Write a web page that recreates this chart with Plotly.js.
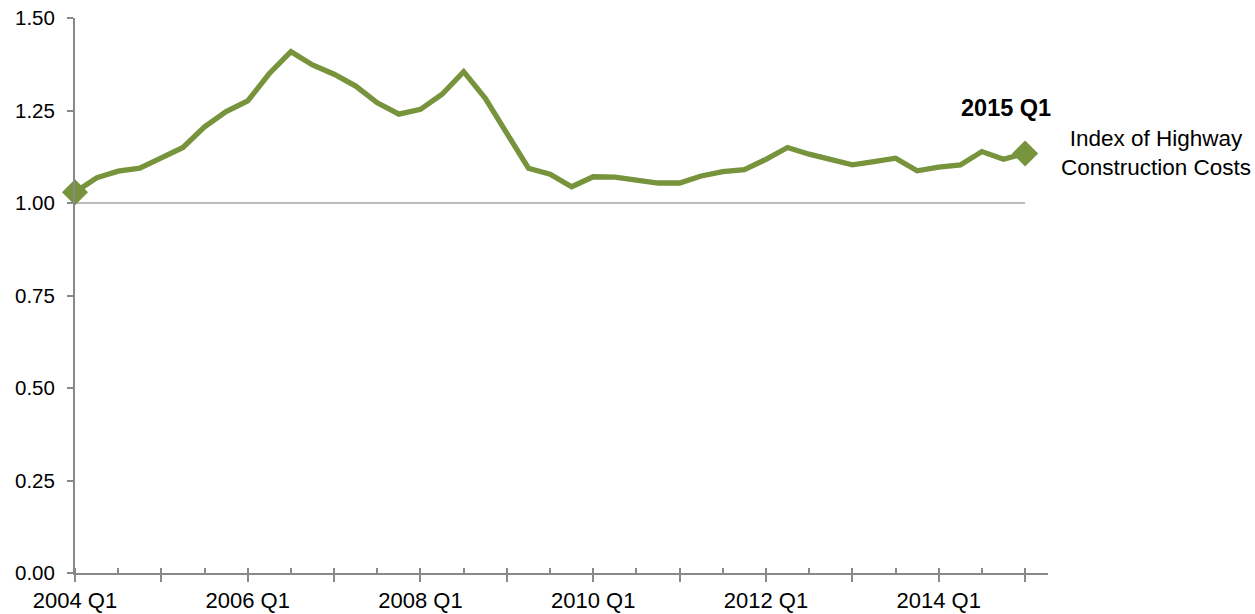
<!DOCTYPE html>
<html>
<head>
<meta charset="utf-8">
<script src="https://cdn.plot.ly/plotly-3.0.1.min.js"></script>
<style>
  html, body { margin: 0; padding: 0; background: #ffffff; }
  #chart { width: 1255px; height: 614px; }
</style>
</head>
<body>
<div id="chart"></div>
<script>
const quarters = [
  "2004 Q1","2004 Q2","2004 Q3","2004 Q4",
  "2005 Q1","2005 Q2","2005 Q3","2005 Q4",
  "2006 Q1","2006 Q2","2006 Q3","2006 Q4",
  "2007 Q1","2007 Q2","2007 Q3","2007 Q4",
  "2008 Q1","2008 Q2","2008 Q3","2008 Q4",
  "2009 Q1","2009 Q2","2009 Q3","2009 Q4",
  "2010 Q1","2010 Q2","2010 Q3","2010 Q4",
  "2011 Q1","2011 Q2","2011 Q3","2011 Q4",
  "2012 Q1","2012 Q2","2012 Q3","2012 Q4",
  "2013 Q1","2013 Q2","2013 Q3","2013 Q4",
  "2014 Q1","2014 Q2","2014 Q3","2014 Q4",
  "2015 Q1"
];

const highwayCostIndex = [
  1.029, 1.068, 1.086, 1.094,
  1.122, 1.150, 1.206, 1.247,
  1.276, 1.350, 1.409, 1.373,
  1.348, 1.316, 1.271, 1.240,
  1.253, 1.294, 1.355, 1.283,
  1.188, 1.094, 1.078, 1.044,
  1.071, 1.070, 1.062, 1.054,
  1.054, 1.073, 1.085, 1.090,
  1.118, 1.150, 1.132, 1.117,
  1.103, 1.112, 1.121, 1.087,
  1.097, 1.103, 1.139, 1.118,
  1.134
];

const baselineQuarters = ["2004 Q1", "2015 Q1"];
const baselineValues = [1.00, 1.00];

const labeledQuarters = ["2004 Q1","2006 Q1","2008 Q1","2010 Q1","2012 Q1","2014 Q1"];
const yTickValues = [0, 0.25, 0.5, 0.75, 1.0, 1.25, 1.5];

const seriesName = "Index of Highway<br>Construction Costs";
const endLabel = "2015 Q1";

// positions along the quarter axis
const qIndex = q => quarters.indexOf(q);
const xs = quarters.map((q, i) => i);
const majorTicks = xs.filter(i => i % 4 === 0);
const majorText = majorTicks.map(i => labeledQuarters.includes(quarters[i]) ? quarters[i] : "");

const green = "#77933C";
const axisGray = "#898989";
const lastI = quarters.length - 1;

const traces = [
  {
    x: baselineQuarters.map(qIndex),
    y: baselineValues,
    mode: "lines",
    line: { color: "#A6A6A6", width: 1.3 },
    hoverinfo: "skip",
    showlegend: false
  },
  {
    x: xs,
    y: highwayCostIndex,
    mode: "lines",
    line: { color: green, width: 5.3 },
    showlegend: false,
    cliponaxis: false
  },
  {
    x: [0, lastI],
    y: [highwayCostIndex[0], highwayCostIndex[lastI]],
    mode: "markers",
    marker: { symbol: "diamond", size: 20, color: green },
    showlegend: false,
    cliponaxis: false
  }
];

const layout = {
  width: 1255,
  height: 614,
  margin: { l: 75, r: 207, t: 18, b: 41 },
  paper_bgcolor: "#ffffff",
  plot_bgcolor: "#ffffff",
  showlegend: false,
  font: { family: "Liberation Sans, Arial, sans-serif", color: "#000000" },
  xaxis: {
    range: [0, 45.06],
    tickmode: "array",
    tickvals: majorTicks,
    ticktext: majorText,
    ticks: "outside",
    ticklen: 7,
    tickwidth: 2,
    tickcolor: axisGray,
    minor: {
      tickmode: "linear",
      tick0: 0,
      dtick: 2,
      ticks: "inside",
      ticklen: 5,
      tickwidth: 2,
      tickcolor: axisGray,
      showgrid: false
    },
    showline: true,
    linecolor: axisGray,
    linewidth: 2,
    showgrid: false,
    zeroline: false,
    tickfont: { size: 22, color: "#000000" },
    fixedrange: true
  },
  yaxis: {
    range: [0, 1.5],
    tickmode: "array",
    tickvals: yTickValues,
    tickformat: ".2f",
    ticks: "outside",
    ticklen: 6,
    tickwidth: 2,
    tickcolor: axisGray,
    ticklabelstandoff: 8,
    showline: true,
    linecolor: axisGray,
    linewidth: 2,
    showgrid: false,
    zeroline: false,
    tickfont: { size: 20.5, color: "#000000" },
    fixedrange: true
  },
  annotations: [
    {
      xref: "x", yref: "y",
      x: 43.1, y: 1.257,
      text: "<b>" + endLabel + "</b>",
      showarrow: false,
      xanchor: "center", yanchor: "middle",
      font: { size: 23.5, color: "#000000" }
    },
    {
      xref: "paper", yref: "y",
      x: (1156 - 75) / 973, y: highwayCostIndex[lastI],
      text: seriesName,
      showarrow: false,
      xanchor: "center", yanchor: "middle",
      align: "center",
      font: { size: 22.5, color: "#000000" }
    }
  ]
};

Plotly.newPlot("chart", traces, layout, { displayModeBar: false, staticPlot: true });
</script>
</body>
</html>
